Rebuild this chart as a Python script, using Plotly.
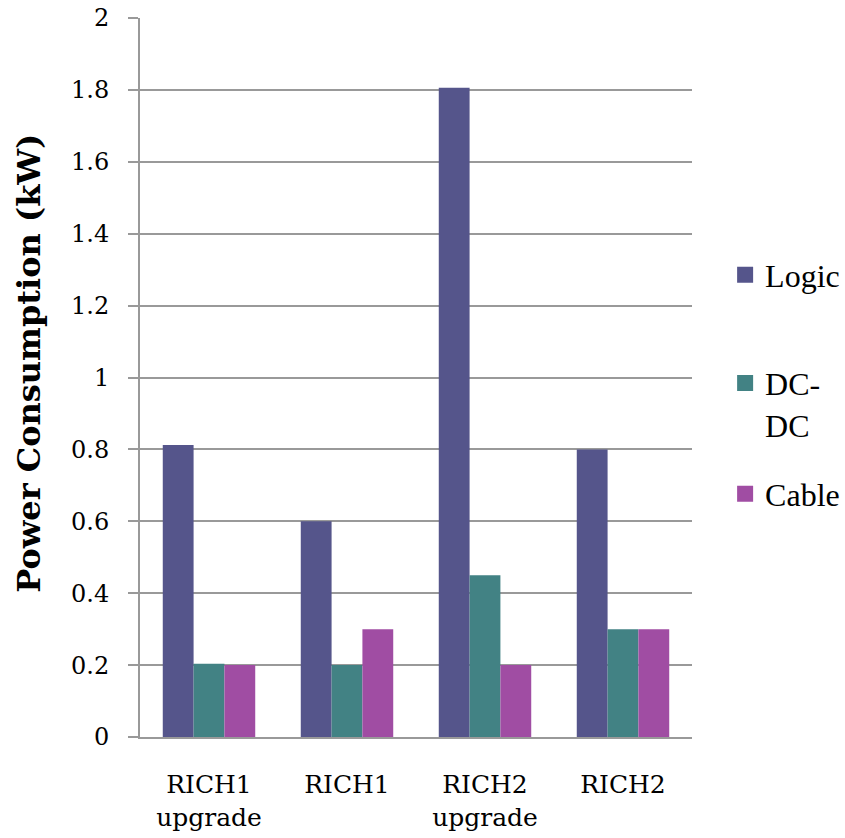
import plotly.graph_objects as go

categories = ["RICH1<br>upgrade", "RICH1", "RICH2<br>upgrade", "RICH2"]
logic = [0.812, 0.6, 1.806, 0.8]
dcdc = [0.204, 0.2, 0.45, 0.3]
cable = [0.2, 0.3, 0.2, 0.3]
series_names = ["Logic", "DC-<br>DC", "Cable"]
colors = ["#55558B", "#428284", "#A04DA3"]
y_ticks = [0, 0.2, 0.4, 0.6, 0.8, 1, 1.2, 1.4, 1.6, 1.8, 2]
y_tick_labels = ["0", "0.2", "0.4", "0.6", "0.8", "1", "1.2", "1.4", "1.6", "1.8", "2"]
y_title = "<b>Power Consumption (kW)</b>"

tick_font = "DejaVu Serif"
legend_font = "Liberation Serif"

legend_ids = ["legend", "legend2", "legend3"]
legend_y = [0.6426, 0.463, 0.338]

fig = go.Figure()
for i, (name, vals, col) in enumerate(zip(series_names, [logic, dcdc, cable], colors)):
    fig.add_trace(go.Bar(
        x=categories, y=vals, name=name, marker_color=col,
        marker_line_width=0, showlegend=False,
    ))
for i, (name, col) in enumerate(zip(series_names, colors)):
    fig.add_trace(go.Scatter(
        x=[None], y=[None], mode="markers", name=name,
        marker=dict(symbol="square", size=17, color=col),
        legend=legend_ids[i], showlegend=True,
    ))

legend_common = dict(
    x=1.06, xanchor="left", yanchor="middle",
    font=dict(family=legend_font, size=32, color="black"),
    valign="top", itemwidth=30, bgcolor="rgba(0,0,0,0)",
)

fig.update_layout(
    width=845, height=838,
    margin=dict(l=140, r=153, t=18, b=101, autoexpand=False),
    plot_bgcolor="white", paper_bgcolor="white",
    barmode="group", bargap=0.33, bargroupgap=0,
    font=dict(family=tick_font, size=24, color="black"),
    legend=dict(y=legend_y[0], **legend_common),
    legend2=dict(y=legend_y[1], **legend_common),
    legend3=dict(y=legend_y[2], **legend_common),
    xaxis=dict(
        showgrid=False, showline=True, linecolor="#999999", linewidth=2,
        ticks="", tickfont=dict(family=tick_font, size=25),
        automargin=False, ticklabelstandoff=24,
    ),
    yaxis=dict(
        range=[0, 2], tickvals=y_ticks, ticktext=y_tick_labels,
        showgrid=True, gridcolor="#999999", gridwidth=1.5,
        showline=True, linecolor="#999999", linewidth=2,
        ticks="outside", ticklen=10, tickcolor="#999999", tickwidth=1.5,
        ticklabelstandoff=14, automargin=False, ticklabeloverflow="allow",
        tickfont=dict(family=tick_font, size=24),
        zeroline=False,
    ),
    annotations=[dict(
        text=y_title, textangle=-90, showarrow=False,
        xref="paper", yref="paper", x=-0.2, y=0.52,
        xanchor="center", yanchor="middle",
        font=dict(family=tick_font, size=32, color="black"),
    )],
)

fig.write_html(
    "out.html",
    config={"displayModeBar": False},
    post_script="document.body.style.margin='0';document.body.style.overflow='hidden';",
)
